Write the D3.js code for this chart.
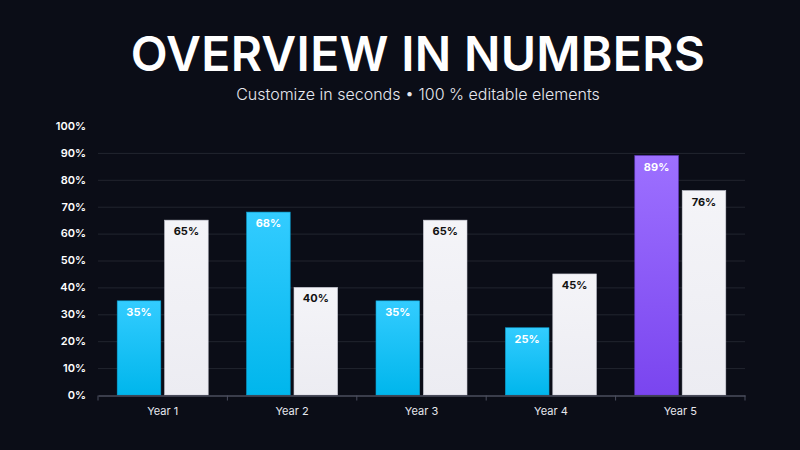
<!DOCTYPE html>
<html>
<head>
<meta charset="utf-8">
<script src="https://cdn.jsdelivr.net/npm/d3@7"></script>
<style>
  html, body { margin: 0; padding: 0; background: #0b0d17; }
  svg { display: block; }
</style>
</head>
<body>
<svg id="chart" width="800" height="450"></svg>
<script>
// chart data
const years = ["Year 1", "Year 2", "Year 3", "Year 4", "Year 5"];
const seriesA = [35, 68, 35, 25, 89];
const seriesB = [65, 40, 65, 45, 76];
const yTicks = [0, 10, 20, 30, 40, 50, 60, 70, 80, 90, 100];

const svg = d3.select("#chart");
const W = 800, H = 450;
const margin = { top: 126, right: 55, bottom: 55, left: 98 };
const font = "Inter, 'Noto Sans', sans-serif";

const defs = svg.append("defs");
function grad(id, top, bottom) {
    const g = defs.append("linearGradient").attr("id", id)
        .attr("x1", 0).attr("y1", 0).attr("x2", 0).attr("y2", 1);
    g.append("stop").attr("offset", "0%").attr("stop-color", top);
    g.append("stop").attr("offset", "100%").attr("stop-color", bottom);
}
grad("blue", "#33ccff", "#00b6ec");
grad("purple", "#9d70ff", "#7a45ef");
grad("white", "#f4f4f8", "#ececf2");

svg.append("rect").attr("width", W).attr("height", H).attr("fill", "#0b0d17");

svg.append("text")
    .attr("x", 418).attr("y", 71)
    .attr("text-anchor", "middle")
    .attr("fill", "#ffffff")
    .style("font-family", font)
    .style("font-weight", 600)
    .style("font-size", "48px")
    .style("letter-spacing", "0.3px")
    .text("OVERVIEW IN NUMBERS");

svg.append("text")
    .attr("x", 418).attr("y", 100)
    .attr("text-anchor", "middle")
    .attr("fill", "#e6e7ee")
    .style("font-family", font)
    .style("font-weight", 300)
    .style("font-size", "16px")
    .text("Customize in seconds \u2022 100 % editable elements");

const x = d3.scaleBand().domain(years)
    .range([margin.left, W - margin.right]);
const x1 = d3.scaleBand().domain(["a", "b"])
    .range([x.bandwidth() / 2 - 45.5, x.bandwidth() / 2 + 45.5]).paddingInner(0.08);
const y = d3.scaleLinear().domain([0, 100])
    .range([H - margin.bottom, margin.top]);

// gridlines
svg.append("g").selectAll("line")
    .data(yTicks.filter(d => d > 0 && d < 100))
    .join("line")
    .attr("x1", margin.left).attr("x2", W - margin.right)
    .attr("y1", d => y(d) + 0.5).attr("y2", d => y(d) + 0.5)
    .attr("stroke", "#22252f").attr("stroke-width", 1);

// y labels
svg.append("g").selectAll("text")
    .data(yTicks)
    .join("text")
    .attr("x", 86).attr("y", d => y(d))
    .attr("dy", "0.35em")
    .attr("text-anchor", "end")
    .attr("fill", "#ffffff")
    .style("font-family", font)
    .style("font-weight", 600)
    .style("font-size", "11px")
    .text(d => d + "%");

// bars
const groups = svg.append("g").selectAll("g")
    .data(years.map((yr, i) => ({ yr, i })))
    .join("g")
    .attr("transform", d => `translate(${x(d.yr)},0)`);

groups.each(function (d) {
    const g = d3.select(this);
    const last = d.i === years.length - 1;
    const bars = [
        { key: "a", v: seriesA[d.i], fill: last ? "url(#purple)" : "url(#blue)", stroke: last ? "#6a3fd0" : "#0a9fd0", txt: "#ffffff" },
        { key: "b", v: seriesB[d.i], fill: "url(#white)", stroke: "#c9cad4", txt: "#111111" }
    ];
    bars.forEach(b => {
        g.append("rect")
            .attr("x", x1(b.key)).attr("y", y(b.v))
            .attr("width", x1.bandwidth())
            .attr("height", y(0) - y(b.v))
            .attr("fill", b.fill)
            .attr("stroke", b.stroke).attr("stroke-width", 0.6);
        g.append("text")
            .attr("x", x1(b.key) + x1.bandwidth() / 2)
            .attr("y", y(b.v) + 15)
            .attr("text-anchor", "middle")
            .attr("fill", b.txt)
            .style("font-family", font)
            .style("font-weight", 700)
            .style("font-size", "11px")
            .text(b.v + "%");
    });
});

// x axis
const xAxis = svg.append("g")
    .attr("transform", `translate(0,${y(0) + 0.5})`)
    .call(d3.axisBottom(x).tickSize(0).tickPadding(12));
xAxis.select(".domain").attr("stroke", "#4b4e5e").attr("stroke-width", 1.5);
xAxis.selectAll("text")
    .attr("fill", "#e6e7ee")
    .style("font-family", font)
    .style("font-size", "11px");
xAxis.append("g").selectAll("line")
    .data(years.map(yr => x(yr)).concat([W - margin.right]))
    .join("line")
    .attr("x1", d => d).attr("x2", d => d)
    .attr("y1", 0).attr("y2", 5)
    .attr("stroke", "#4b4e5e");
</script>
</body>
</html>
